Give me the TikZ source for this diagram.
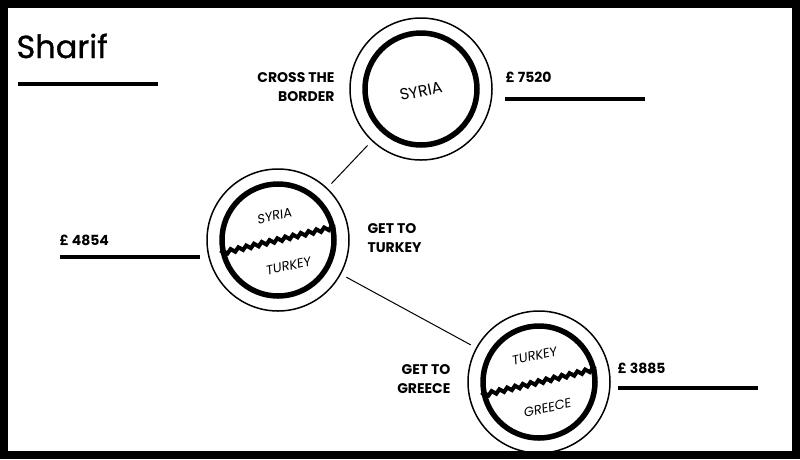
\documentclass[tikz,border=0pt]{standalone}
\usepackage{fontspec}
\setmainfont{Poppins}
\usetikzlibrary{decorations.pathmorphing}
\tikzset{
  stop/.style={circle, draw, line width=1.5pt, minimum size=142pt, inner sep=0pt},
  inner/.style={circle, draw, line width=5.5pt, minimum size=112pt, inner sep=0pt},
  label/.style={font=\bfseries\fontsize{14}{19}\selectfont, align=left},
  place/.style={font=\fontsize{13}{15}\selectfont\addfontfeature{FakeSlant=0.15}, inner sep=1pt},
  bar/.style={line width=4pt},
  link/.style={line width=1pt, shorten <=6pt, shorten >=6pt},
  wave/.style={line width=4pt, decorate, decoration={snake, amplitude=1.8pt, segment length=8pt}}
}
\begin{document}
\begin{tikzpicture}[x=1pt,y=-1pt]
  \useasboundingbox (0,0) rectangle (800,459);
  \draw[line width=8pt] (4,4) rectangle (796,455);
  % title
  \node[anchor=west, font=\fontsize{32}{36}\selectfont\addfontfeature{FakeBold=1}] (title) at (13,46) {Sharif};
  \draw[bar] (18,84) -- (158,84);
  % stops
  \node[stop] (syria) at (421,89) {};
  \node[inner] (syriain) at (421,89) {};
  \node[place, rotate=12, font=\fontsize{16}{18}\selectfont] at (421,91) {SYRIA};
  \node[stop] (turkey) at (278,240) {};
  \node[inner] (turkeyin) at (278,240) {};
  \node[place, rotate=12] at (274,216) {SYRIA};
  \node[place, rotate=12] at (288,266) {TURKEY};
  \node[stop] (greece) at (539,382) {};
  \node[inner] (greecein) at (539,382) {};
  \node[place, rotate=12] at (534,356) {TURKEY};
  \node[place, rotate=12] at (547,408) {GREECE};
  \draw[wave] (turkeyin.193) -- (turkeyin.13);
  \draw[wave] (greecein.193) -- (greecein.13);
  % connectors
  \draw[link] (syria) -- (turkey);
  \draw[link] (turkey) -- (greece);
  % labels
  \node[label, align=right, anchor=east] (cross) at (338,87) {CROSS THE\\BORDER};
  \node[label, anchor=west] (getturkey) at (364,238) {GET TO\\TURKEY};
  \node[label, align=right, anchor=east] (getgreece) at (454,379) {GET TO\\GREECE};
  \node[label, anchor=west] (p1) at (502,77) {£ 7520};
  \draw[bar] (505,99) -- (645,99);
  \node[label, anchor=west] (p2) at (56,240) {£ 4854};
  \draw[bar] (60,257) -- (200,257);
  \node[label, anchor=west] (p3) at (614,368) {£ 3885};
  \draw[bar] (618,388) -- (758,388);
\end{tikzpicture}
\end{document}
